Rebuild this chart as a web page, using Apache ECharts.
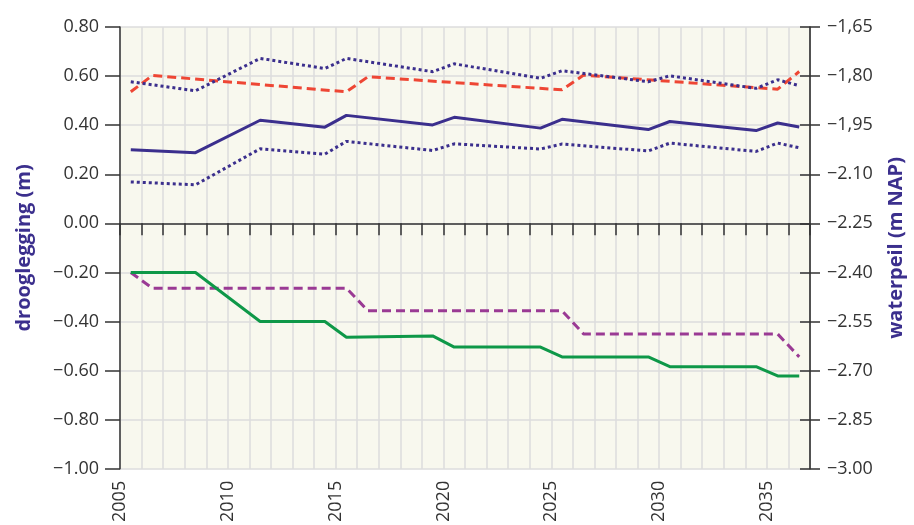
<!DOCTYPE html>
<html>
<head>
<meta charset="utf-8">
<script src="https://cdn.jsdelivr.net/npm/echarts@6/dist/echarts.min.js"></script>
<style>html,body{margin:0;padding:0;background:#fff}#c{width:914px;height:525px}</style>
</head>
<body>
<div id="c"></div>
<script>
// Years (x positions) of the data points
var yearsMain = [2005.5, 2008.5, 2011.5, 2014.5, 2015.5, 2019.5, 2020.5, 2024.5, 2025.5, 2029.5, 2030.5, 2034.5, 2035.5, 2036.5];
var yearsStep = [2005.5, 2006.5, 2015.5, 2016.5, 2025.5, 2026.5, 2035.5, 2036.5];

// drooglegging (m) - left axis
var droogMid  = [0.300, 0.288, 0.420, 0.392, 0.440, 0.401, 0.432, 0.388, 0.424, 0.382, 0.415, 0.378, 0.409, 0.393];
var droogHigh = [0.577, 0.540, 0.672, 0.631, 0.672, 0.618, 0.650, 0.591, 0.622, 0.577, 0.601, 0.550, 0.585, 0.561];
var droogLow  = [0.169, 0.157, 0.304, 0.282, 0.334, 0.297, 0.324, 0.303, 0.323, 0.295, 0.327, 0.293, 0.327, 0.308];

// waterpeil (m NAP) - right axis
var peilRed    = [-1.848, -1.798, -1.848, -1.802, -1.842, -1.797, -1.840, -1.786];
var peilGreen  = [-2.400, -2.400, -2.550, -2.550, -2.598, -2.594, -2.628, -2.628, -2.658, -2.658, -2.688, -2.688, -2.716, -2.716];
var peilPurple = [-2.400, -2.448, -2.448, -2.517, -2.517, -2.588, -2.588, -2.658];

// Axis settings / tick labels
var xMin = 2005, xMax = 2037, xLabelStep = 5;
var leftMin = -1.0, leftMax = 0.8, leftStep = 0.2;
var rightMin = -3.0, rightMax = -1.65, rightStep = 0.15;
var leftName = 'drooglegging (m)';
var rightName = 'waterpeil (m NAP)';

function zip(xs, ys) { return xs.map(function (x, i) { return [x, ys[i]]; }); }

var FONT = '"Open Sans", "Noto Sans", sans-serif';
var TXT = '#333333';
var INDIGO = '#3b2f8d';
var GRIDC = '#dcdcdc';

var chart = echarts.init(document.getElementById('c'), null, {renderer: 'canvas'});
chart.setOption({
  animation: false,
  textStyle: {fontFamily: FONT},
  grid: {left: 120, right: 101, top: 27, bottom: 54, show: true, backgroundColor: '#f8f8ee', borderWidth: 0},
  xAxis: [
    {
      type: 'value', min: xMin, max: xMax, interval: 1, position: 'bottom',
      axisLine: {show: true, onZero: true, onZeroAxisIndex: 0, lineStyle: {color: '#333', width: 1.5}},
      axisTick: {show: true, length: 12, lineStyle: {color: '#333', width: 1.5}},
      axisLabel: {show: false},
      splitLine: {show: false}
    },
    {
      type: 'value', min: xMin, max: xMax, interval: 1, position: 'bottom',
      axisLine: {show: false, onZero: false},
      axisTick: {show: false},
      axisLabel: {
        show: true, rotate: 90, margin: 12, fontSize: 18, color: TXT, fontFamily: FONT,
        formatter: function (v) { return (Math.round(v) % xLabelStep === 0) ? String(Math.round(v)) : ''; }
      },
      splitLine: {show: true, lineStyle: {color: GRIDC, width: 1.5}}
    }
  ],
  yAxis: [
    {
      type: 'value', min: leftMin, max: leftMax, interval: leftStep, position: 'left',
      name: leftName, nameLocation: 'middle', nameGap: 86, nameRotate: 90,
      nameTextStyle: {color: INDIGO, fontSize: 20, fontFamily: FONT, fontWeight: 'bold'},
      axisLine: {show: true, lineStyle: {color: '#333', width: 1.5}},
      axisTick: {show: true, length: 15, lineStyle: {color: '#333', width: 1.5}},
      axisLabel: {margin: 21, fontSize: 18, color: TXT, fontFamily: FONT,
        formatter: function (v) { return v.toFixed(2).replace('-', '\u2212'); }},
      splitLine: {show: true, lineStyle: {color: GRIDC, width: 1.5}}
    },
    {
      type: 'value', min: rightMin, max: rightMax, interval: rightStep, position: 'right',
      name: rightName, nameLocation: 'middle', nameGap: 76, nameRotate: 90,
      nameTextStyle: {color: INDIGO, fontSize: 20, fontFamily: FONT, fontWeight: 'bold'},
      axisLine: {show: true, lineStyle: {color: '#222', width: 1.5}},
      axisTick: {show: true, length: 10, lineStyle: {color: '#333', width: 1.5}},
      axisLabel: {margin: 17, fontSize: 18, color: TXT, fontFamily: FONT,
        formatter: function (v) {
          var s = v.toFixed(2).replace('-', '\u2212');
          if (v > -2.0) s = s.replace('.', ',');
          return s;
        }},
      splitLine: {show: false}
    },
    {
      type: 'value', min: rightMin, max: rightMax, interval: rightStep, position: 'right',
      axisLine: {show: false},
      axisTick: {show: true, inside: true, length: 10, lineStyle: {color: '#333', width: 1.5}},
      axisLabel: {show: false},
      splitLine: {show: false}
    }
  ],
  series: [
    {type: 'line', name: 'peil hoog', xAxisIndex: 0, yAxisIndex: 1, data: zip(yearsStep, peilRed), showSymbol: false,
      lineStyle: {color: '#ee4634', width: 3, type: [9, 5]}},
    {type: 'line', name: 'droog hoog', xAxisIndex: 0, yAxisIndex: 0, data: zip(yearsMain, droogHigh), showSymbol: false,
      lineStyle: {color: INDIGO, width: 3, type: [3, 3]}},
    {type: 'line', name: 'droog', xAxisIndex: 0, yAxisIndex: 0, data: zip(yearsMain, droogMid), showSymbol: false,
      lineStyle: {color: INDIGO, width: 3}},
    {type: 'line', name: 'droog laag', xAxisIndex: 0, yAxisIndex: 0, data: zip(yearsMain, droogLow), showSymbol: false,
      lineStyle: {color: INDIGO, width: 3, type: [3, 3]}},
    {type: 'line', name: 'peil paars', xAxisIndex: 0, yAxisIndex: 1, data: zip(yearsStep, peilPurple), showSymbol: false,
      lineStyle: {color: '#9a3a94', width: 3, type: [9, 5]}},
    {type: 'line', name: 'peil groen', xAxisIndex: 0, yAxisIndex: 1, data: zip(yearsMain, peilGreen), showSymbol: false,
      lineStyle: {color: '#0e9848', width: 3}}
  ]
});
</script>
</body>
</html>
